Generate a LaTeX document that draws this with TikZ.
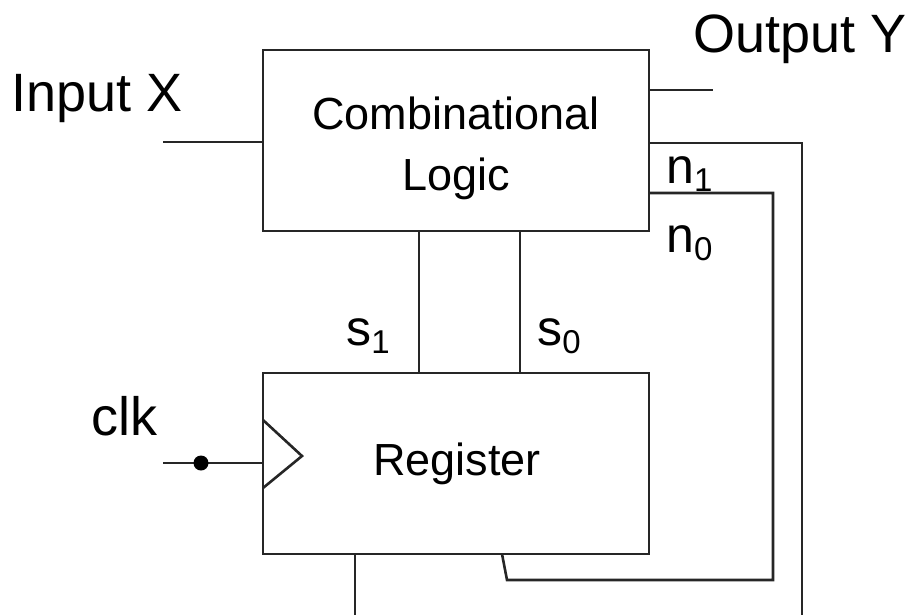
\documentclass[tikz,border=0pt]{standalone}
\usepackage{fontspec}
\setmainfont{Liberation Sans}
\begin{document}
\begin{tikzpicture}[x=1pt,y=-1pt,line width=2.6pt,
  wire/.style={draw=black!85},
  box/.style={draw=black!85,anchor=north west,inner sep=0pt,outer sep=0pt,minimum width=386pt,minimum height=181pt},
  big/.style={inner sep=0pt,anchor=base west,font=\fontsize{54}{60}\selectfont},
  boxtxt/.style={inner sep=0pt,align=center,font=\fontsize{45}{61}\selectfont},
  sig/.style={inner sep=0pt,anchor=base west,font=\fontsize{50}{56}\selectfont}]
\newcommand{\subx}[1]{\raisebox{-8pt}{\fontsize{33}{35}\selectfont #1}}
\useasboundingbox (0,0) rectangle (912,615);
% boxes
\node[box] (cl) at (263,50) {};
\node[box] (reg) at (263,373) {};
\node[boxtxt] (cltxt) at (456,148) {Combinational\\Logic};
\node[boxtxt,anchor=base] (regtxt) at (457,475) {Register};
% labels
\node[big] (inx) at (10,112) {Input X};
\node[big] (outy) at (692,53) {Output Y};
\node[big] (clk) at (90,435) {clk};
\node[sig] (n1) at (665,183) {n\subx{1}};
\node[sig] (n0) at (665,252) {n\subx{0}};
\node[sig] (s1) at (345,345) {s\subx{1}};
\node[sig] (s0) at (536,345) {s\subx{0}};
% coordinates
\coordinate (xin) at (163,142);
\coordinate (yout) at (713,90);
\coordinate (n1y) at (0,143);
\coordinate (n1r) at (802,143);
\coordinate (n1b) at (802,615);
\coordinate (n0y) at (0,193);
\coordinate (n0r) at (773,193);
\coordinate (n0b) at (773,580);
\coordinate (n0l) at (507,580);
\coordinate (n0e) at (502,0);
\coordinate (fb) at (355,615);
\coordinate (s1x) at (419,0);
\coordinate (s0x) at (520,0);
\coordinate (clkin) at (163,463);
\coordinate (tt) at (0,420);
\coordinate (tip) at (302,456);
\coordinate (tb) at (0,488);
% wires
\draw[wire] (xin) -- (xin -| cl.west);
\draw[wire] (yout -| cl.east) -- (yout);
\draw[wire] (cl.east |- n1y) -- (n1r) -- (n1b);
\draw[wire] (cl.east |- n0y) -- (n0r) -- (n0b) -- (n0l) -- (reg.south -| n0e);
\draw[wire] (reg.south -| fb) -- (fb);
\draw[wire] (cl.south -| s1x) -- (reg.north -| s1x);
\draw[wire] (cl.south -| s0x) -- (reg.north -| s0x);
\draw[wire] (clkin) -- (clkin -| reg.west);
\node[circle,fill=black,inner sep=0pt,minimum size=15pt] (dot) at (201,463) {};
\draw[wire] (reg.west |- tt) -- (tip) -- (reg.west |- tb);
\end{tikzpicture}
\end{document}
